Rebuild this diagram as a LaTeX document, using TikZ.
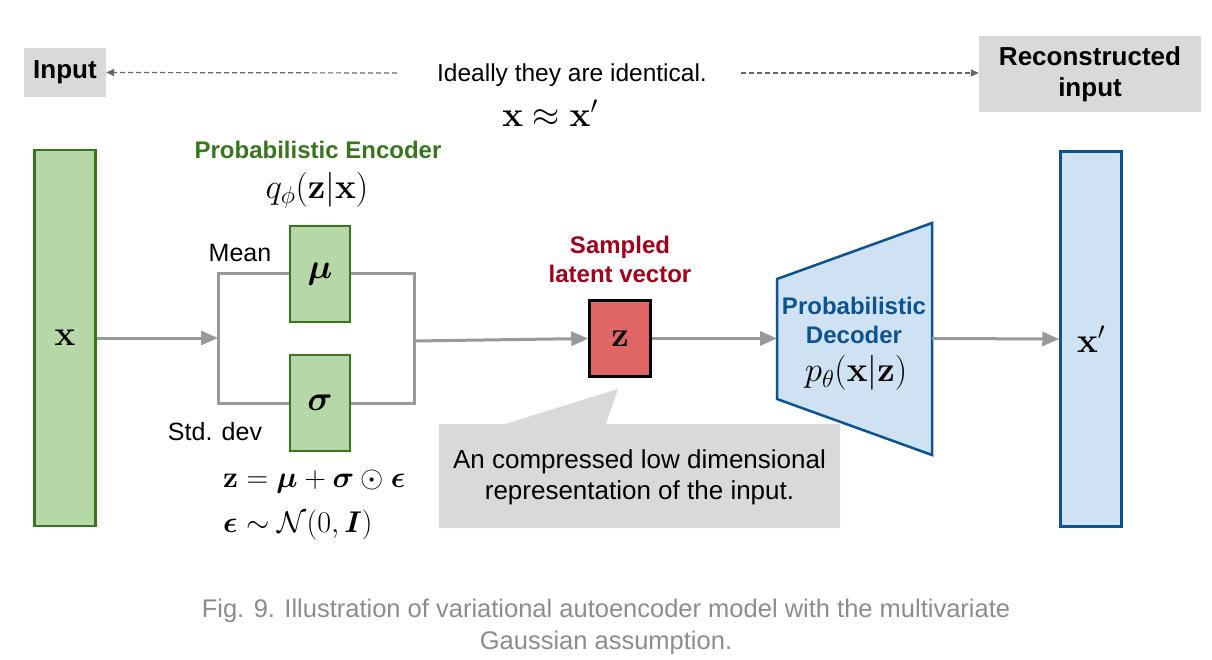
\RequirePackage{fix-cm}
\documentclass[tikz,border=0pt]{standalone}
\usepackage{amsmath}
\usepackage{bm}
\usepackage[no-math]{fontspec}
\setmainfont{Liberation Sans}
\usetikzlibrary{arrows.meta}
\definecolor{greenfill}{HTML}{B6D7A8}
\definecolor{greenline}{HTML}{38761D}
\definecolor{redfill}{HTML}{E06666}
\definecolor{darkred}{HTML}{A3001B}
\definecolor{bluefill}{HTML}{CFE2F3}
\definecolor{blueline}{HTML}{0B5394}
\definecolor{linegray}{HTML}{999999}
\definecolor{boxgray}{HTML}{D9D9D9}
\definecolor{dashgray}{HTML}{666666}
\definecolor{captiongray}{HTML}{8C8C8C}
\begin{document}
\begin{tikzpicture}[x=1pt,y=-1pt,
  txt/.style={font=\fontsize{25}{31}\selectfont, inner sep=0pt, align=center},
  btxt/.style={font=\bfseries\fontsize{24}{29}\selectfont, inner sep=0pt, align=center},
  toptxt/.style={font=\bfseries\fontsize{26}{31}\selectfont, align=center, fill=boxgray, inner sep=0pt},
  mth/.style={font=\fontsize{35}{40}\selectfont, inner sep=0pt},
  eqn/.style={font=\fontsize{30}{36}\selectfont, inner sep=0pt},
  greenbox/.style={draw=greenline, fill=greenfill, line width=2.5pt, minimum width=61pt, inner sep=0pt, font=\fontsize{35}{40}\selectfont},
  bluebox/.style={draw=blueline, fill=bluefill, line width=2.5pt, minimum width=61pt, inner sep=0pt, font=\fontsize{35}{40}\selectfont},
  conn/.style={draw=linegray, line width=3pt},
  connarrow/.style={conn, -{Triangle[length=17pt,width=14pt]}},
  dasharrow/.style={draw=dashgray, line width=1.2pt, dash pattern=on 5pt off 3pt, -{Triangle[length=8pt,width=7pt]}}
]
\useasboundingbox (0,0) rectangle (1212,660);

% top row
\node[toptxt, minimum width=82pt, minimum height=49pt] (inp) at (65,72.5) {Input};
\node[toptxt, minimum width=222pt, minimum height=76pt] (rec) at (1090,74) {Reconstructed\\input};
\node[txt, font=\fontsize{24.5}{30}\selectfont] (ideal) at (572,75) {Ideally they are identical.};
\node[mth] (approx) at (550,113) {$\mathbf{x} \approx \mathbf{x}'$};
\coordinate (dl) at (397,73);
\coordinate (dr) at (741,73);
\draw[dasharrow] (dl) -- (inp.east);
\draw[dasharrow] (dr) -- (rec.west |- dr);

% input vector
\node[greenbox, minimum height=376pt] (xin) at (65,338) {$\mathbf{x}$};

% encoder
\node[btxt, text=greenline] (enc) at (318,150) {Probabilistic Encoder};
\node[mth] (qphi) at (317,190) {$q_\phi(\mathbf{z}|\mathbf{x})$};
\node[greenbox, minimum width=60pt, minimum height=96pt] (mu) at (320,274) {$\bm{\mu}$};
\node[greenbox, minimum width=60pt, minimum height=96pt] (sigma) at (320,403) {$\bm{\sigma}$};
\node[txt] (mean) at (240,253) {Mean};
\node[txt] (std) at (215,432) {Std. dev};
\node[eqn, anchor=west] (eq1) at (223,482) {$\mathbf{z} = \bm{\mu} + \bm{\sigma} \odot \bm{\epsilon}$};
\node[eqn, anchor=west] (eq2) at (223,525) {$\bm{\epsilon} \sim \mathcal{N}(0, \bm{I})$};

\coordinate (bl) at (218,338);
\coordinate (blt) at (218,274);
\coordinate (blb) at (218,403);
\coordinate (brt) at (414,274);
\coordinate (brb) at (414,403);
\coordinate (bro) at (414,341);

\draw[conn] (mu.west) -- (blt) -- (blb) -- (sigma.west);
\draw[conn] (mu.east) -- (brt) -- (brb) -- (sigma.east);
\draw[connarrow] (xin.east) -- (bl);

% latent
\node[draw=black, fill=redfill, line width=2.5pt, minimum width=61pt, minimum height=76pt, inner sep=0pt, font=\fontsize{35}{40}\selectfont] (z) at (620,338.5) {$\mathbf{z}$};
\node[btxt, text=darkred] (samp) at (620,259) {Sampled\\latent vector};
\draw[connarrow] (bro) -- (z.west);

% callout
\path[fill=boxgray] (439,424) -- (505,424) -- (618,389) -- (606,424) -- (840,424) -- (840,528) -- (439,528) -- cycle;
\node[txt, font=\fontsize{26}{31}\selectfont] (call) at (639.5,477) {An compressed low dimensional\\representation of the input.};

% decoder
\path[draw=blueline, fill=bluefill, line width=2.5pt, line join=miter] (777,279) -- (932,223) -- (932,455) -- (777,399) -- cycle;
\coordinate (decin) at (777,338.5);
\coordinate (decout) at (932,338.5);
\node[btxt, text=blueline] (dec) at (854,320) {Probabilistic\\Decoder};
\node[mth] (ptheta) at (856,373) {$p_\theta(\mathbf{x}|\mathbf{z})$};
\draw[connarrow] (z.east) -- (decin);

% output vector
\node[bluebox, minimum height=375pt] (xout) at (1091,339) {$\mathbf{x}'$};
\draw[connarrow] (decout) -- (xout.west);

% caption
\node[font=\fontsize{25.5}{32}\selectfont, text=captiongray, align=center, inner sep=0pt] (cap) at (606,627) {Fig. 9. Illustration of variational autoencoder model with the multivariate\\Gaussian assumption.};
\end{tikzpicture}
\end{document}
